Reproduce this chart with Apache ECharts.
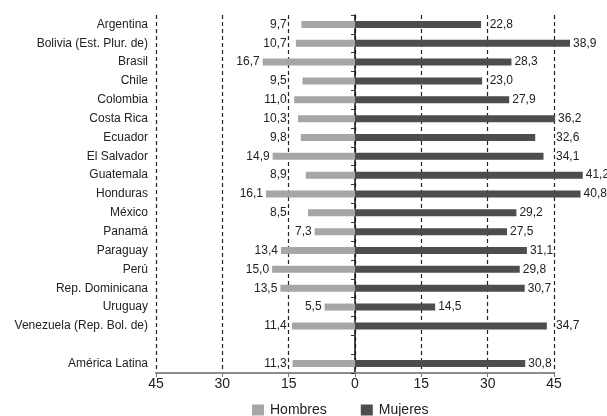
<!DOCTYPE html>
<html><head><meta charset="utf-8">
<script src="https://cdn.jsdelivr.net/npm/echarts@6/dist/echarts.min.js"></script>
<style>html,body{margin:0;padding:0;background:#fff}#c{width:607px;height:416px}</style>
</head><body><div id="c"></div>
<script>
const categories = ['Argentina','Bolivia (Est. Plur. de)','Brasil','Chile','Colombia','Costa Rica','Ecuador','El Salvador','Guatemala','Honduras','México','Panamá','Paraguay','Perú','Rep. Dominicana','Uruguay','Venezuela (Rep. Bol. de)','','América Latina'];
const hombres = [9.7,10.7,16.7,9.5,11.0,10.3,9.8,14.9,8.9,16.1,8.5,7.3,13.4,15.0,13.5,5.5,11.4,null,11.3];
const mujeres = [22.8,38.9,28.3,23.0,27.9,36.2,32.6,34.1,41.2,40.8,29.2,27.5,31.1,29.8,30.7,14.5,34.7,null,30.8];
const tickValues = [-45,-30,-15,0,15,30,45];
const barAxisMax = 36;

const FONT = 'Liberation Sans, Arial, sans-serif';
const LABEL_SIZE = 12;
const fmt = v => Math.abs(v).toFixed(1).replace('.', ',');
const chart = echarts.init(document.getElementById('c'), null, {renderer:'canvas'});

function buildData(vals, sign, offsets){
  return vals.map((v,i) => v == null ? null : {value: sign*v, label:{offset:[offsets ? offsets[i] : 0, 0]}});
}
function option(offH, offM){
  return {
    animation:false,
    textStyle:{fontFamily:FONT},
    grid:{left:156, right:53, top:15, bottom:43, containLabel:false, outerBoundsMode:'none'},
    legend:{data:['Hombres','Mujeres'], left:247, top:398, itemWidth:12, itemHeight:11, itemGap:34, icon:'rect',
      textStyle:{fontSize:14, color:'#222', fontFamily:FONT, padding:[0,0,0,1]}},
    xAxis:[
      {type:'value', min:tickValues[0], max:tickValues[tickValues.length-1], interval:15,
       axisLine:{show:true, lineStyle:{color:'#8c8c8c', width:2}},
       axisTick:{show:true, length:4, lineStyle:{color:'#777'}},
       axisLabel:{fontSize:14, color:'#222', margin:4, formatter:v=>String(Math.abs(v))},
       splitLine:{show:true, lineStyle:{color:'#222', type:[4,3], width:1.2}}},
      {type:'value', min:-barAxisMax, max:barAxisMax, show:false}
    ],
    yAxis:[
      {type:'category', data:categories, inverse:true, position:'left',
       axisLine:{show:false, onZero:false}, axisTick:{show:false},
       axisLabel:{margin:8, fontSize:12, color:'#222', fontFamily:FONT}},
      {type:'category', data:categories, inverse:true, position:'right', offset:-199,
       axisLine:{show:true, onZero:false, lineStyle:{color:'#111', width:1.5}},
       axisTick:{show:true, inside:true, length:4, lineStyle:{color:'#333'}},
       axisLabel:{show:false}}
    ],
    series:[
      {name:'Hombres', type:'bar', xAxisIndex:1, yAxisIndex:0, barWidth:7, barGap:'-100%', clip:false,
       itemStyle:{color:'#a6a6a6'},
       label:{show:true, position:'left', distance:3, fontSize:LABEL_SIZE, color:'#222', formatter:p=>fmt(p.value)},
       data:buildData(hombres,-1,offH)},
      {name:'Mujeres', type:'bar', xAxisIndex:1, yAxisIndex:0, barWidth:7, barGap:'-100%', clip:false,
       itemStyle:{color:'#4d4d4d'},
       label:{show:true, position:'right', distance:3, fontSize:LABEL_SIZE, color:'#222', formatter:p=>fmt(p.value)},
       data:buildData(mujeres,1,offM)}
    ]
  };
}
chart.setOption(option(null,null));

// shift labels off the dashed gridlines, as in the reference
const ctx = document.createElement('canvas').getContext('2d');
ctx.font = LABEL_SIZE + 'px ' + FONT;
const lines = tickValues.filter(t=>t!==0).map(t=>chart.convertToPixel({xAxisIndex:0}, t));
const offH = hombres.map(v=>{
  if (v==null) return 0;
  const w = ctx.measureText(fmt(v)).width;
  const right = chart.convertToPixel({xAxisIndex:1}, -v) - 3, left = right - w;
  for (const g of lines) if (left-0.5 < g && right+1 > g) return (g-2) - right;
  return 0;
});
const offM = mujeres.map(v=>{
  if (v==null) return 0;
  const w = ctx.measureText(fmt(v)).width;
  const left = chart.convertToPixel({xAxisIndex:1}, v) + 3, right = left + w;
  for (const g of lines) if (left-1 < g && right+0.5 > g) return (g+2) - left;
  return 0;
});
chart.setOption(option(offH, offM));
</script></body></html>
